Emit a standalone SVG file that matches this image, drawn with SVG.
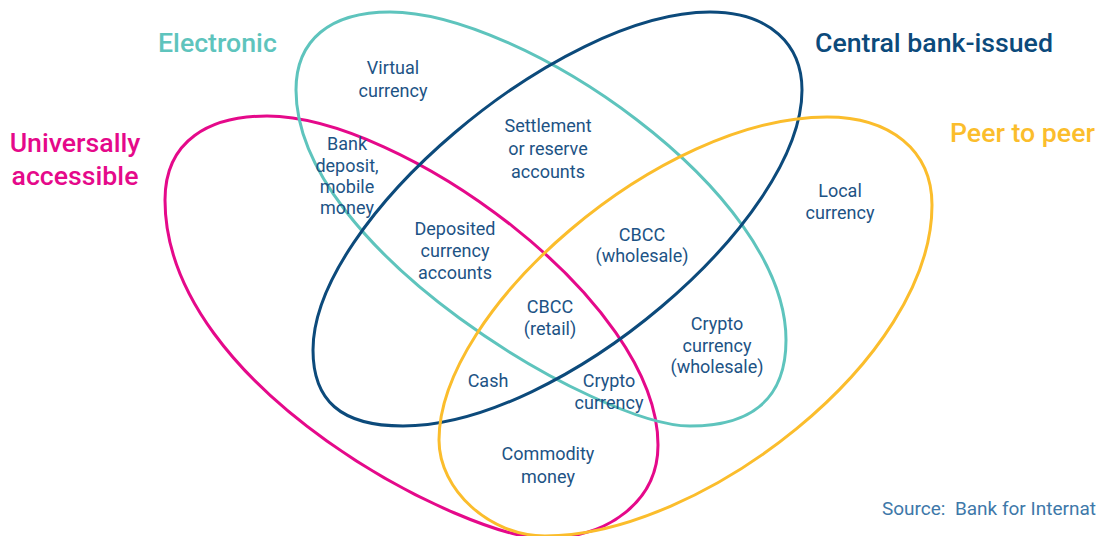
<svg xmlns="http://www.w3.org/2000/svg" width="1099" height="536" viewBox="0 0 1099 536">
<style>
.set{fill:none;stroke-width:3}
.lbl{font-family:Roboto,"Liberation Sans",sans-serif;font-size:18px;fill:#1d5385;text-anchor:middle}
.cat{font-family:Roboto,"Liberation Sans",sans-serif;font-size:26.7px;font-weight:500}
.src{font-family:Roboto,"Liberation Sans",sans-serif;font-size:19px;fill:#3e78a9;white-space:pre}
</style>
<rect width="1099" height="536" fill="#ffffff"/>
<g id="connectors">
<path id="set-universal" class="set" stroke="#e5098a" d="M267,116 C400,116 658,300 658,445 C658,500 610,538 545,538 C470,540 165,390 165,200 C165,140 210,116 267,116 Z"/>
<path id="set-electronic" class="set" stroke="#5ec4bd" d="M390,12 C520,12 786,190 786,340 C786,400 750,426 690,426 C600,426 296,250 296,90 C296,40 330,12 390,12 Z"/>
<path id="set-central" class="set" stroke="#0c4a7b" d="M710,12 C770,12 802,45 802,90 C802,220 560,426 403,426 C340,426 313,400 313,350 C313,220 560,12 710,12 Z"/>
<path id="set-p2p" class="set" stroke="#fbbd2c" d="M827,117 C890,117 932,150 932,205 C932,360 700,536 545,536 C490,536 439,490 439,440 C439,310 660,117 827,117 Z"/>
</g>
<g id="cat-electronic"><text class="cat" x="158" y="52" fill="#5ec4bd">Electronic</text></g>
<g id="cat-central"><text class="cat" x="815" y="52" fill="#0c4a7b">Central bank-issued</text></g>
<g id="cat-universal"><text class="cat" x="75" y="152" fill="#e5098a" text-anchor="middle">Universally</text><text class="cat" x="75" y="185" fill="#e5098a" text-anchor="middle">accessible</text></g>
<g id="cat-p2p"><text class="cat" x="950" y="142" fill="#fbbd2c">Peer to peer</text></g>
<g id="n-virtual"><text class="lbl" x="393" y="74">Virtual</text><text class="lbl" x="393" y="97">currency</text></g>
<g id="n-settlement"><text class="lbl" x="548" y="132">Settlement</text><text class="lbl" x="548" y="155">or reserve</text><text class="lbl" x="548" y="178">accounts</text></g>
<g id="n-bank"><text class="lbl" x="347" y="150">Bank</text><text class="lbl" x="347" y="172">deposit,</text><text class="lbl" x="347" y="193">mobile</text><text class="lbl" x="347" y="214">money</text></g>
<g id="n-local"><text class="lbl" x="840" y="197">Local</text><text class="lbl" x="840" y="219">currency</text></g>
<g id="n-deposited"><text class="lbl" x="455" y="235">Deposited</text><text class="lbl" x="455" y="257">currency</text><text class="lbl" x="455" y="279">accounts</text></g>
<g id="n-cbcc-wholesale"><text class="lbl" x="642" y="241">CBCC</text><text class="lbl" x="642" y="262">(wholesale)</text></g>
<g id="n-cbcc-retail"><text class="lbl" x="550" y="313">CBCC</text><text class="lbl" x="550" y="335">(retail)</text></g>
<g id="n-crypto-wholesale"><text class="lbl" x="717" y="330">Crypto</text><text class="lbl" x="717" y="352">currency</text><text class="lbl" x="717" y="373">(wholesale)</text></g>
<g id="n-cash"><text class="lbl" x="488" y="387">Cash</text></g>
<g id="n-crypto"><text class="lbl" x="609" y="387">Crypto</text><text class="lbl" x="609" y="409">currency</text></g>
<g id="n-commodity"><text class="lbl" x="548" y="460">Commodity</text><text class="lbl" x="548" y="483">money</text></g>
<g id="source"><text class="src" x="882" y="515" xml:space="preserve">Source:  Bank for Internat</text></g>
</svg>
